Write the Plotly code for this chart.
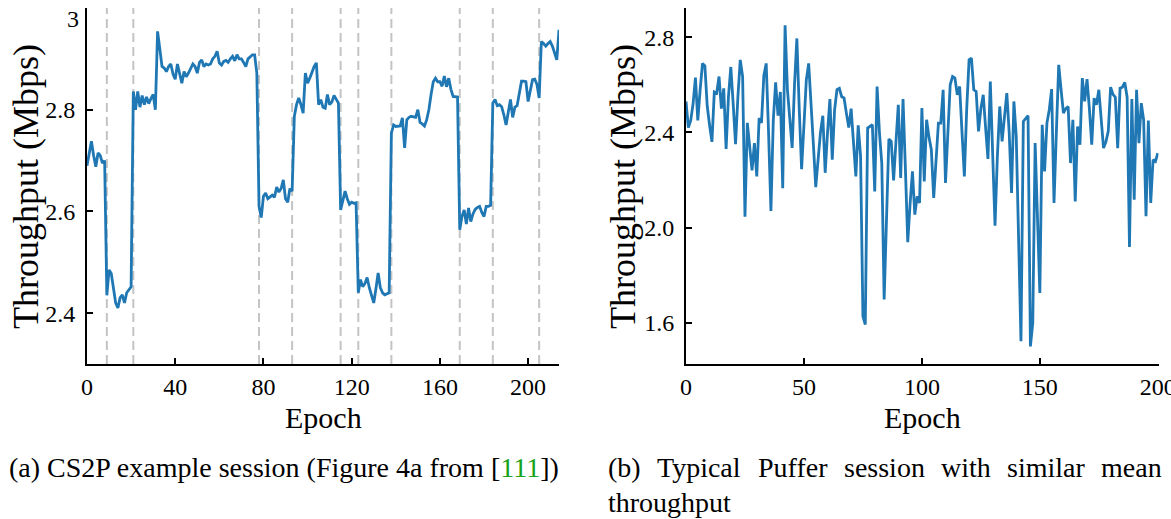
import plotly.graph_objects as go

W, H = 1171, 519
FONT = "Liberation Serif"

# ---------------- data ----------------
left_tput = [
    2.69, 2.715, 2.738, 2.71, 2.688, 2.715, 2.71, 2.695, 2.70, 2.435,
    2.485, 2.478, 2.445, 2.42, 2.41, 2.43, 2.436, 2.42, 2.44, 2.445, 2.452,
    2.836, 2.80, 2.836, 2.805, 2.828, 2.81, 2.825, 2.812, 2.822, 2.83, 2.80,
    2.954, 2.92, 2.885, 2.882, 2.875, 2.885, 2.89, 2.87, 2.86, 2.89,
    2.87, 2.852, 2.875, 2.865, 2.872, 2.88, 2.89, 2.885, 2.872, 2.893,
    2.898, 2.885, 2.89, 2.888, 2.89, 2.9, 2.905, 2.915, 2.892, 2.888,
    2.895, 2.897, 2.893, 2.9, 2.905, 2.896, 2.908, 2.9, 2.9, 2.893,
    2.885, 2.9, 2.905, 2.908, 2.908, 2.872,
    2.61, 2.588, 2.63, 2.636, 2.625, 2.628, 2.632, 2.628, 2.648, 2.638,
    2.645, 2.662, 2.625, 2.618, 2.645, 2.64,
    2.787, 2.81, 2.823, 2.81, 2.793, 2.872, 2.852, 2.862, 2.875, 2.885, 2.892,
    2.81, 2.82, 2.805, 2.803, 2.83, 2.81, 2.815, 2.828, 2.82, 2.813,
    2.603, 2.622, 2.64, 2.625, 2.614, 2.618, 2.616, 2.617,
    2.44, 2.466, 2.452, 2.458, 2.47, 2.45, 2.435, 2.42, 2.448, 2.479, 2.45, 2.44, 2.436, 2.438, 2.44,
    2.754, 2.77, 2.767, 2.768, 2.768, 2.784, 2.725, 2.78, 2.785, 2.787, 2.786, 2.785,
    2.80, 2.775, 2.772, 2.768, 2.78, 2.80, 2.83, 2.855, 2.862, 2.855,
    2.855, 2.846, 2.866, 2.845, 2.862, 2.84, 2.826, 2.826, 2.825,
    2.564, 2.59, 2.603, 2.575, 2.607, 2.58, 2.595, 2.604, 2.608, 2.61, 2.598, 2.59, 2.61, 2.61, 2.612,
    2.813, 2.82, 2.808, 2.81, 2.806, 2.79, 2.77, 2.795, 2.82, 2.785, 2.805, 2.808,
    2.83, 2.856, 2.856, 2.855, 2.816, 2.835, 2.859, 2.86, 2.85, 2.823,
    2.934, 2.93, 2.925, 2.93, 2.934, 2.925, 2.911, 2.898, 2.957,
]
left_epochs = list(range(len(left_tput)))
left_change_epochs = [9, 21, 78, 93, 115, 123, 138, 169, 184, 205]

right_tput = [
    2.53, 2.42, 2.45, 2.52, 2.63, 2.45, 2.58, 2.69, 2.68, 2.51,
    2.43, 2.36, 2.57, 2.565, 2.635, 2.50, 2.585, 2.33, 2.55, 2.675,
    2.52, 2.35, 2.55, 2.705, 2.635, 2.045, 2.44, 2.35, 2.24, 2.355,
    2.215, 2.46, 2.44, 2.64, 2.69, 2.40, 2.07, 2.45, 2.61, 2.47,
    2.57, 2.165, 2.85, 2.58, 2.46, 2.335, 2.60, 2.795, 2.50, 2.245,
    2.43, 2.62, 2.69, 2.54, 2.35, 2.17, 2.28, 2.40, 2.47, 2.23,
    2.40, 2.54, 2.285, 2.495, 2.58, 2.585, 2.55, 2.545, 2.48, 2.42,
    2.50, 2.35, 2.215, 2.43, 2.30, 1.627, 1.592, 2.418, 2.425, 2.432,
    2.152, 2.593, 2.40, 2.27, 1.697, 2.05, 2.372, 2.362, 2.198, 2.36,
    2.516, 2.208, 2.54, 2.25, 1.938, 2.10, 2.236, 2.054, 2.131, 2.103,
    2.502, 2.194, 2.453, 2.38, 2.327, 2.124, 2.30, 2.439, 2.439, 2.579,
    2.187, 2.40, 2.60, 2.635, 2.628, 2.558, 2.593, 2.40, 2.215, 2.50,
    2.705, 2.712, 2.579, 2.572, 2.404, 2.50, 2.558, 2.42, 2.288, 2.614,
    2.35, 2.008, 2.30, 2.509, 2.362, 2.47, 2.565, 2.40, 2.145, 2.53,
    2.383, 1.95, 1.522, 2.446, 2.46, 2.47, 1.50, 1.599, 2.355, 2.00,
    1.725, 2.432, 2.236, 2.439, 2.495, 2.582, 2.103, 2.40, 2.684, 2.58,
    2.481, 2.50, 2.509, 2.271, 2.453, 2.11, 2.425, 2.348, 2.628, 2.53,
    2.624, 2.50, 2.348, 2.544, 2.516, 2.579, 2.45, 2.334, 2.36, 2.404,
    2.59, 2.56, 2.548, 2.334, 2.586, 2.59, 2.61, 2.548, 1.918, 2.54,
    2.117, 2.579, 2.355, 2.523, 2.453, 2.047, 2.45, 2.103, 2.285, 2.278,
    2.313,
]
right_epochs = list(range(len(right_tput)))

left_xticks = [0, 40, 80, 120, 160, 200]
left_yticks = [2.4, 2.6, 2.8, 3.0]
left_yticktext = ["2.4", "2.6", "2.8", ""]   # "3" drawn as a separate label below
left_top_label = "3"
right_xticks = [0, 50, 100, 150, 200]
right_yticks = [1.6, 2.0, 2.4, 2.8]
right_yticktext = ["1.6", "2.0", "2.4", "2.8"]

x_title = "Epoch"
y_title = "Throughput (Mbps)"

# ---------------- figure ----------------
LINE_COLOR = "#1f77b4"
fig = go.Figure()
fig.add_trace(go.Scatter(x=left_epochs, y=left_tput, mode="lines",
                         line=dict(color=LINE_COLOR, width=2.8),
                         xaxis="x", yaxis="y", showlegend=False))
fig.add_trace(go.Scatter(x=right_epochs, y=right_tput, mode="lines",
                         line=dict(color=LINE_COLOR, width=2.8),
                         xaxis="x2", yaxis="y2", showlegend=False))

for e in left_change_epochs:
    fig.add_shape(type="line", xref="x", yref="y domain", x0=e, x1=e, y0=0, y1=1,
                  line=dict(color="#c4c4c4", width=2, dash="9px,5px"), layer="below")


def px_x(p):
    return p / W


def px_y(p):
    return 1 - p / H


top, bottom = 8, 364
ydom = [px_y(bottom), px_y(top)]
tickfont = dict(family=FONT, size=24, color="black")
common_axis = dict(showline=True, linecolor="black", linewidth=2, ticks="inside",
                   ticklen=6, tickwidth=1.5, tickcolor="black", showgrid=False,
                   zeroline=False, tickfont=tickfont, mirror=False,
                   ticklabeloverflow="allow", automargin=False)

fig.update_layout(
    template="none",
    width=W, height=H,
    margin=dict(l=0, r=0, t=0, b=0, pad=0),
    paper_bgcolor="white", plot_bgcolor="white",
    xaxis=dict(domain=[px_x(87), px_x(559)], range=[0, 214], tickvals=left_xticks,
               anchor="y", ticklabelstandoff=0, **common_axis),
    yaxis=dict(domain=ydom, range=[2.3, 3.0], tickvals=left_yticks,
               ticktext=left_yticktext, anchor="x", ticklabelstandoff=5, **common_axis),
    xaxis2=dict(domain=[px_x(686), px_x(1158.5)], range=[0, 200.3], tickvals=right_xticks,
                anchor="y2", ticklabelstandoff=0, **common_axis),
    yaxis2=dict(domain=ydom, range=[1.426, 2.923], tickvals=right_yticks,
                ticktext=right_yticktext, anchor="x2", ticklabelstandoff=5, **common_axis),
)

ann = []
ann.append(dict(text=left_top_label, x=px_x(81), y=px_y(19), xref="paper", yref="paper",
                showarrow=False, font=tickfont, xanchor="right", yanchor="middle"))
title_font = dict(family=FONT, size=30, color="black")
ytitle_font = dict(family=FONT, size=36, color="black")
ann.append(dict(text=x_title, x=px_x(323), y=px_y(417), xref="paper", yref="paper",
                showarrow=False, font=title_font, xanchor="center", yanchor="middle"))
ann.append(dict(text=x_title, x=px_x(922), y=px_y(417), xref="paper", yref="paper",
                showarrow=False, font=title_font, xanchor="center", yanchor="middle"))
ann.append(dict(text=y_title, x=px_x(26), y=px_y(187), xref="paper", yref="paper",
                showarrow=False, font=ytitle_font, textangle=-90,
                xanchor="center", yanchor="middle"))
ann.append(dict(text=y_title, x=px_x(623), y=px_y(187), xref="paper", yref="paper",
                showarrow=False, font=ytitle_font, textangle=-90,
                xanchor="center", yanchor="middle"))

cap_font = dict(family=FONT, size=28, color="black")
ann.append(dict(text="(a) CS2P example session (Figure 4a from [<span style='color:#19a319'>111</span>])",
                x=px_x(7), y=px_y(467), xref="paper", yref="paper", showarrow=False,
                font=cap_font, xanchor="left", yanchor="middle"))

cap_b_words = ["(b)", "Typical", "Puffer", "session", "with", "similar", "mean"]
cap_b_left = [606, 654.6, 756.1, 842.1, 939, 1004.8, 1098.6]
for w, xl in zip(cap_b_words, cap_b_left):
    ann.append(dict(text=w, x=px_x(xl), y=px_y(467), xref="paper", yref="paper",
                    showarrow=False, font=cap_font, xanchor="left", yanchor="middle"))
ann.append(dict(text="throughput", x=px_x(606), y=px_y(502), xref="paper", yref="paper",
                showarrow=False, font=cap_font, xanchor="left", yanchor="middle"))

fig.update_layout(annotations=ann)

fig.write_html("out.html")
